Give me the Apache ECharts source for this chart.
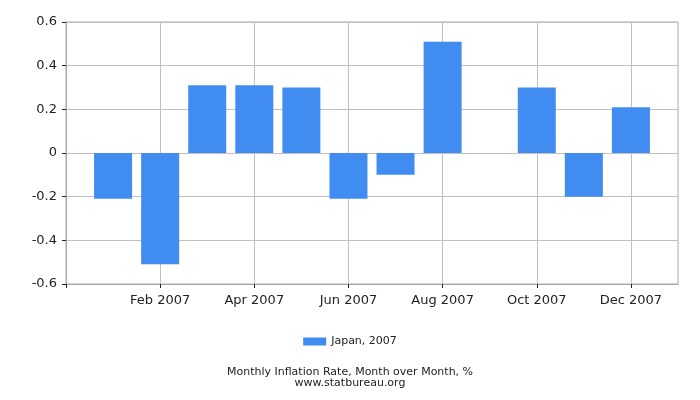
<!DOCTYPE html>
<html>
<head>
<meta charset="utf-8">
<script src="https://cdn.jsdelivr.net/npm/echarts@6/dist/echarts.min.js"></script>
<style>
  html, body { margin: 0; padding: 0; background: #fff; }
  #myChart { width: 700px; height: 400px; }
</style>
</head>
<body>
<div id="myChart"></div>
<script>
// month position on the x axis (1 = Jan) and MoM values
var monthNums = [1, 2, 3, 4, 5, 6, 7, 8, 9, 10, 11, 12];
var monthLabels = ["Jan 2007", "Feb 2007", "Mar 2007", "Apr 2007", "May 2007", "Jun 2007",
    "Jul 2007", "Aug 2007", "Sep 2007", "Oct 2007", "Nov 2007", "Dec 2007"];
var japan2007 = [-0.21, -0.51, 0.31, 0.31, 0.3, -0.21, -0.1, 0.51, 0, 0.3, -0.2, 0.21];
var yTicks = [-0.6, -0.4, -0.2, 0, 0.2, 0.4, 0.6];
var xTicks = [0, 2, 4, 6, 8, 10, 12];

window.addEventListener("load", () => {
    var myChart = echarts.init(document.getElementById("myChart"));
    var fnt = "DejaVu Sans";
    var data = monthNums.map((m, i) => [m, japan2007[i]]);

    var option = {
        animation: false,
        textStyle: { fontFamily: fnt },
        title: {
            text: "Monthly Inflation Rate, Month over Month, %\nwww.statbureau.org",
            left: "center",
            top: 362,
            textStyle: {
                fontFamily: fnt,
                fontSize: 11,
                fontWeight: "normal",
                color: "#222",
                lineHeight: 11,
            },
        },
        legend: {
            top: 331,
            left: "center",
            icon: "rect",
            itemWidth: 23,
            itemHeight: 8,
            itemGap: 5,
            textStyle: { fontFamily: fnt, fontSize: 11, color: "#222" },
            data: ["Japan, 2007"],
        },
        grid: {
            left: 66,
            right: 22,
            top: 22,
            bottom: 116,
            show: true,
            borderColor: "#aaa",
            borderWidth: 1,
        },
        xAxis: {
            type: "value",
            min: 0,
            max: 13,
            interval: 2,
            axisLine: { show: true, onZero: false, lineStyle: { color: "#aaa" } },
            axisTick: { show: true, length: 4, customValues: xTicks, lineStyle: { color: "#222" } },
            splitLine: { show: true, lineStyle: { color: "#c0c0c0" } },
            axisLabel: {
                fontFamily: fnt,
                fontSize: 13,
                color: "#222",
                margin: 10,
                formatter: (v) => (v >= 1 && v <= 12 ? monthLabels[v - 1] : ""),
            },
        },
        yAxis: {
            type: "value",
            min: yTicks[0],
            max: yTicks[yTicks.length - 1],
            interval: 0.2,
            axisLine: { show: true, lineStyle: { color: "#aaa" } },
            axisTick: { show: true, length: 4, lineStyle: { color: "#222" } },
            splitLine: { show: true, lineStyle: { color: "#c0c0c0" } },
            axisLabel: {
                fontFamily: fnt,
                fontSize: 13,
                color: "#222",
                margin: 9,
                formatter: (v) => String(Math.round(v * 10) / 10),
            },
        },
        series: [
            {
                name: "Japan, 2007",
                type: "bar",
                data: data,
                barWidth: 38,
                itemStyle: { color: "#418CF0" },
            },
        ],
    };
    myChart.setOption(option);
});
</script>
</body>
</html>
